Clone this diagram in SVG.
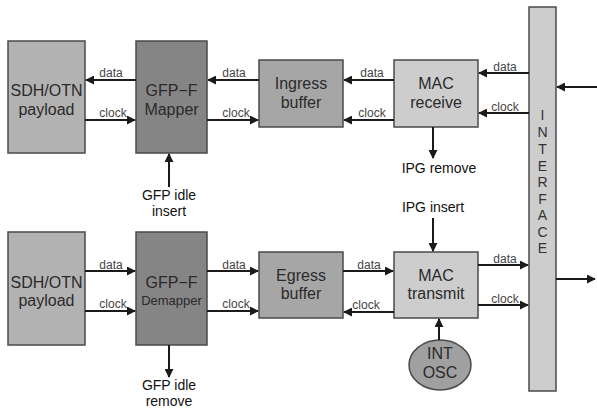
<svg xmlns="http://www.w3.org/2000/svg" width="597" height="408" viewBox="0 0 597 408">
<defs>
<marker id="ah" viewBox="0 0 10 10" refX="9" refY="5" markerWidth="9" markerHeight="9" markerUnits="userSpaceOnUse" orient="auto">
<path d="M0,0 L10,5 L0,10 z" fill="#1a1a1a"/>
</marker>
<style>
.box{stroke:#4a4a4a;stroke-width:1.5}
.pl{fill:#b2b2b2}
.mp{fill:#858585}
.bf{fill:#a6a6a6}
.mac{fill:#cdcdcd}
.t{font-family:"Liberation Sans",Arial,sans-serif;font-size:16px;fill:#2a2a2a;text-anchor:middle}
.ts{font-family:"Liberation Sans",Arial,sans-serif;font-size:13px;fill:#2a2a2a;text-anchor:middle}
.lb{font-family:"Liberation Sans",Arial,sans-serif;font-size:12px;fill:#444;text-anchor:middle}
.ot{font-family:"Liberation Sans",Arial,sans-serif;font-size:14px;fill:#111;text-anchor:middle}
.if{font-family:"Liberation Sans",Arial,sans-serif;font-size:14px;fill:#333;text-anchor:middle}
.c{stroke:#1a1a1a;stroke-width:2;fill:none;marker-end:url(#ah)}
</style>
</defs>
<rect width="597" height="408" fill="#ffffff"/>

<g id="sdh-top">
<rect class="box pl" x="8" y="41" width="77" height="112"/>
<text class="t" x="46.5" y="96">SDH/OTN</text>
<text class="t" x="46.5" y="115">payload</text>
</g>
<g id="mapper">
<rect class="box mp" x="136" y="41" width="71" height="112"/>
<text class="t" x="171.5" y="96">GFP−F</text>
<text class="t" x="171.5" y="115">Mapper</text>
</g>
<g id="ingress">
<rect class="box bf" x="259" y="60" width="84" height="67"/>
<text class="t" x="301" y="89">Ingress</text>
<text class="t" x="301" y="108">buffer</text>
</g>
<g id="mac-rx">
<rect class="box mac" x="394" y="60" width="84" height="67"/>
<text class="t" x="436" y="89">MAC</text>
<text class="t" x="436" y="108">receive</text>
</g>
<g id="interface">
<rect class="box mac" x="529" y="7" width="27" height="384"/>
<text class="if" x="542.5" y="120">I</text>
<text class="if" x="542.5" y="137">N</text>
<text class="if" x="542.5" y="154">T</text>
<text class="if" x="542.5" y="171">E</text>
<text class="if" x="542.5" y="187">R</text>
<text class="if" x="542.5" y="204">F</text>
<text class="if" x="542.5" y="220">A</text>
<text class="if" x="542.5" y="237">C</text>
<text class="if" x="542.5" y="253">E</text>
</g>
<g id="sdh-bottom">
<rect class="box pl" x="8" y="232" width="77" height="113"/>
<text class="t" x="46.5" y="288">SDH/OTN</text>
<text class="t" x="46.5" y="306">payload</text>
</g>
<g id="demapper">
<rect class="box mp" x="136" y="232" width="71" height="113"/>
<text class="t" x="171.5" y="288">GFP−F</text>
<text class="ts" x="171.5" y="305">Demapper</text>
</g>
<g id="egress">
<rect class="box bf" x="259" y="252" width="84" height="66"/>
<text class="t" x="301" y="281">Egress</text>
<text class="t" x="301" y="299">buffer</text>
</g>
<g id="mac-tx">
<rect class="box mac" x="394" y="252" width="84" height="66"/>
<text class="t" x="436" y="281">MAC</text>
<text class="t" x="436" y="299">transmit</text>
</g>
<g id="int-osc">
<ellipse cx="440" cy="365" rx="31" ry="25" fill="#a0a0a0" stroke="#4a4a4a" stroke-width="1.5"/>
<text class="t" x="440" y="359">INT</text>
<text class="t" x="440" y="378">OSC</text>
</g>

<g id="connectors">
<path class="c" d="M136,80 H86"/>
<path class="c" d="M85,120 H135"/>
<path class="c" d="M259,80 H208"/>
<path class="c" d="M207,120 H258"/>
<path class="c" d="M394,80 H344"/>
<path class="c" d="M394,120 H344"/>
<path class="c" d="M529,73 H479"/>
<path class="c" d="M529,113 H479"/>
<path class="c" d="M597,87 H557"/>
<path class="c" d="M169,187 V154"/>
<path class="c" d="M433,127 V158"/>
<path class="c" d="M85,271 H135"/>
<path class="c" d="M85,311 H135"/>
<path class="c" d="M207,271 H258"/>
<path class="c" d="M207,311 H258"/>
<path class="c" d="M343,271 H393"/>
<path class="c" d="M394,312 H344"/>
<path class="c" d="M478,265 H528"/>
<path class="c" d="M478,305 H528"/>
<path class="c" d="M556,279 H595"/>
<path class="c" d="M433,218 V251"/>
<path class="c" d="M439,340 V319"/>
<path class="c" d="M169,345 V377"/>
</g>

<g id="labels">
<text class="lb" x="111" y="77">data</text>
<text class="lb" x="113" y="117">clock</text>
<text class="lb" x="234" y="77">data</text>
<text class="lb" x="236" y="117">clock</text>
<text class="lb" x="372" y="77">data</text>
<text class="lb" x="372" y="117">clock</text>
<text class="lb" x="505" y="71">data</text>
<text class="lb" x="505" y="111">clock</text>
<text class="lb" x="111" y="269">data</text>
<text class="lb" x="113" y="308">clock</text>
<text class="lb" x="234" y="269">data</text>
<text class="lb" x="236" y="308">clock</text>
<text class="lb" x="369" y="269">data</text>
<text class="lb" x="366" y="309">clock</text>
<text class="lb" x="505" y="263">data</text>
<text class="lb" x="505" y="303">clock</text>
<text class="ot" x="169" y="200">GFP idle</text>
<text class="ot" x="169" y="216">insert</text>
<text class="ot" x="439" y="173">IPG remove</text>
<text class="ot" x="433" y="212">IPG insert</text>
<text class="ot" x="169" y="390">GFP idle</text>
<text class="ot" x="169" y="406">remove</text>
</g>
</svg>
